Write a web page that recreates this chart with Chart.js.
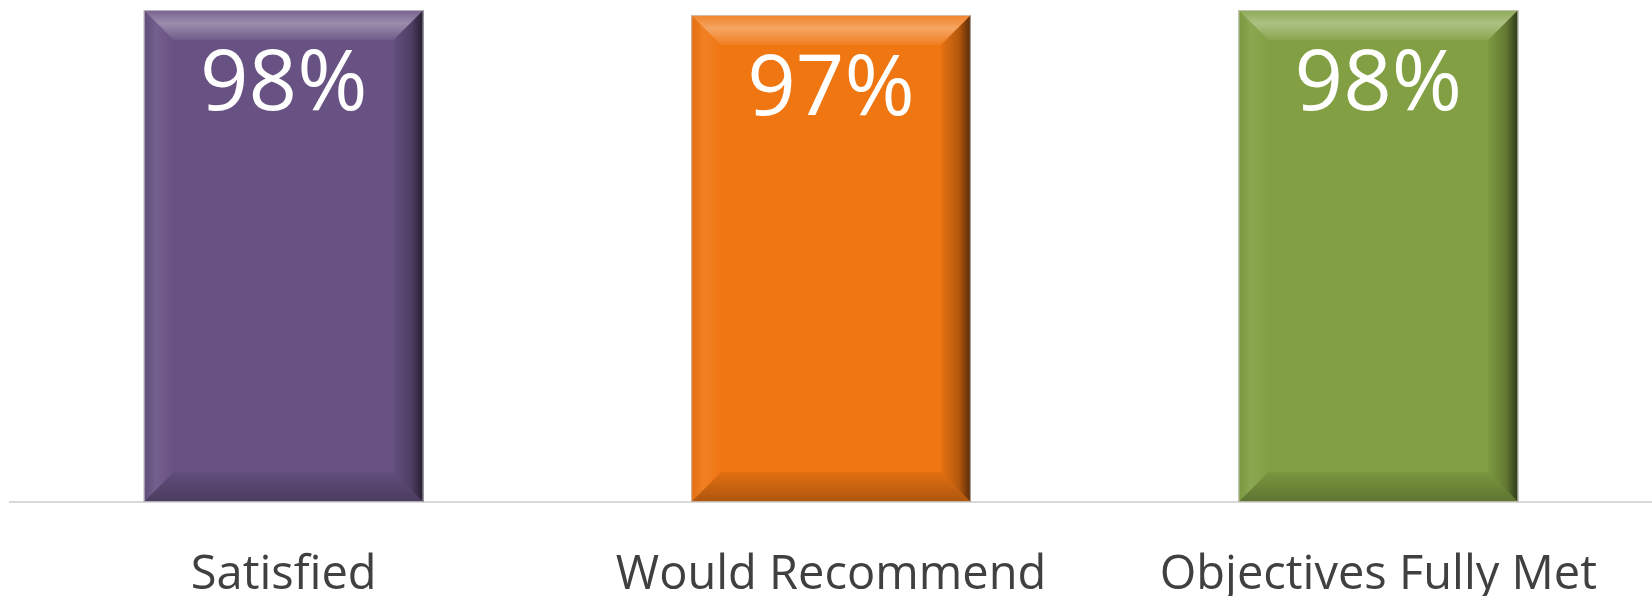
<!DOCTYPE html>
<html>
<head>
<meta charset="utf-8">
<script src="https://cdn.jsdelivr.net/npm/chart.js@4/dist/chart.umd.min.js"></script>
<style>
  html, body { margin: 0; padding: 0; background: #fff; }
  #wrap { width: 1652px; height: 596px; }
</style>
</head>
<body>
<div id="wrap"><canvas id="surveyChart" width="1652" height="596"></canvas></div>
<script>
const categories = ['Satisfied', 'Would Recommend', 'Objectives Fully Met'];
const percentages = [98, 97, 98];
const barColors = ['#685283', '#f07612', '#82a043'];

// beveled look: light top/left edges, dark right/bottom edges
const bevelPlugin = {
    id: 'bevel',
    afterDatasetsDraw(chart) {
        const ctx = chart.ctx;
        const meta = chart.getDatasetMeta(0);
        meta.data.forEach(bar => {
            const l = bar.x - bar.width / 2;
            const r = bar.x + bar.width / 2;
            const t = bar.y;
            const b = bar.base;
            const s = 30;
            ctx.save();

            // top
            let g = ctx.createLinearGradient(0, t, 0, t + s);
            g.addColorStop(0, 'rgba(255,255,255,0.10)');
            g.addColorStop(0.45, 'rgba(255,255,255,0.34)');
            g.addColorStop(1, 'rgba(255,255,255,0.06)');
            ctx.fillStyle = g;
            ctx.beginPath();
            ctx.moveTo(l, t); ctx.lineTo(r, t); ctx.lineTo(r - s, t + s); ctx.lineTo(l + s, t + s);
            ctx.closePath(); ctx.fill();

            // left
            g = ctx.createLinearGradient(l, 0, l + s, 0);
            g.addColorStop(0, 'rgba(0,0,0,0.05)');
            g.addColorStop(0.4, 'rgba(255,255,255,0.08)');
            g.addColorStop(1, 'rgba(255,255,255,0.0)');
            ctx.fillStyle = g;
            ctx.beginPath();
            ctx.moveTo(l, t); ctx.lineTo(l + s, t + s); ctx.lineTo(l + s, b - s); ctx.lineTo(l, b);
            ctx.closePath(); ctx.fill();

            // right
            g = ctx.createLinearGradient(r - s, 0, r, 0);
            g.addColorStop(0, 'rgba(0,0,0,0.04)');
            g.addColorStop(0.6, 'rgba(0,0,0,0.25)');
            g.addColorStop(1, 'rgba(0,0,0,0.65)');
            ctx.fillStyle = g;
            ctx.beginPath();
            ctx.moveTo(r, t); ctx.lineTo(r, b); ctx.lineTo(r - s, b - s); ctx.lineTo(r - s, t + s);
            ctx.closePath(); ctx.fill();

            // bottom
            g = ctx.createLinearGradient(0, b - s, 0, b);
            g.addColorStop(0, 'rgba(0,0,0,0.06)');
            g.addColorStop(1, 'rgba(0,0,0,0.28)');
            ctx.fillStyle = g;
            ctx.beginPath();
            ctx.moveTo(l, b); ctx.lineTo(l + s, b - s); ctx.lineTo(r - s, b - s); ctx.lineTo(r, b);
            ctx.closePath(); ctx.fill();

            ctx.strokeStyle = 'rgba(200,200,200,0.8)';
            ctx.lineWidth = 1;
            ctx.strokeRect(l + 0.5, t + 0.5, r - l - 1, b - t - 1);
            ctx.restore();
        });
    }
};

// value labels inside the bars near the top
const valueLabels = {
    id: 'valueLabels',
    afterDatasetsDraw(chart) {
        const ctx = chart.ctx;
        const meta = chart.getDatasetMeta(0);
        ctx.save();
        ctx.fillStyle = '#ffffff';
        ctx.font = '85px "Open Sans"';
        ctx.textAlign = 'center';
        ctx.textBaseline = 'middle';
        meta.data.forEach((bar, i) => {
            ctx.fillText(percentages[i] + '%', bar.x, bar.y + 76);
        });
        ctx.restore();
    }
};

const ctx = document.getElementById('surveyChart').getContext('2d');
const surveyChart = new Chart(ctx, {
    type: 'bar',
    data: {
        labels: categories,
        datasets: [{
            data: percentages,
            backgroundColor: barColors,
            borderWidth: 0,
            categoryPercentage: 1,
            barPercentage: 0.511
        }]
    },
    options: {
        responsive: false,
        animation: false,
        layout: {
            padding: { left: 10, right: 0, top: -2, bottom: 0 }
        },
        plugins: {
            legend: { display: false },
            tooltip: { enabled: false }
        },
        scales: {
            x: {
                afterFit(scale) { scale.height = 94; },
                grid: { display: false, drawTicks: false },
                border: { display: true, color: '#d9d9d9', width: 2 },
                ticks: {
                    color: '#404040',
                    padding: 45,
                    maxRotation: 0,
                    font: { family: 'Open Sans', size: 47 }
                }
            },
            y: {
                display: false,
                min: 0,
                max: 100
            }
        }
    },
    plugins: [bevelPlugin, valueLabels]
});
</script>
</body>
</html>
